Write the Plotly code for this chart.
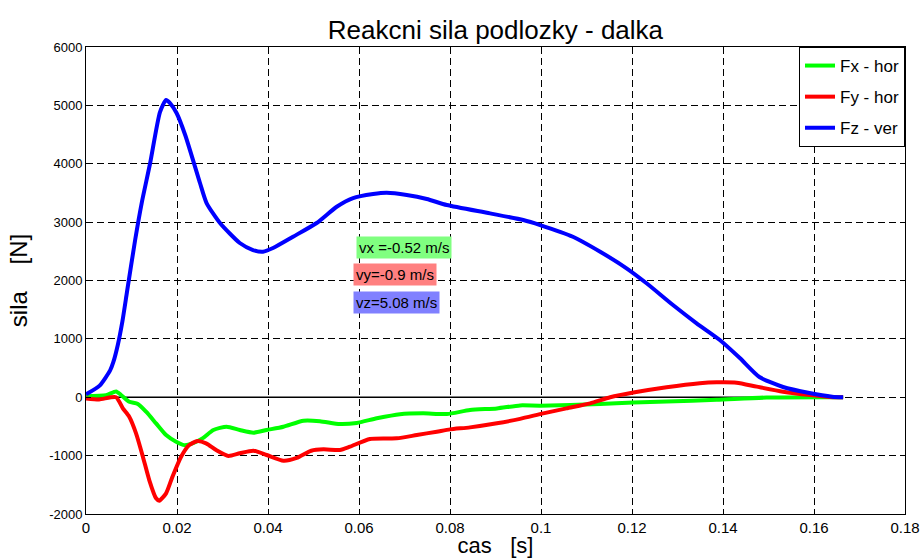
import plotly.graph_objects as go

# ---- data ----
t_fz = [0.0, 0.003, 0.0053, 0.006, 0.007, 0.008, 0.009, 0.0108, 0.01224, 0.0141, 0.01626, 0.0176,
        0.01846, 0.0199, 0.0218, 0.02505, 0.0265, 0.02945, 0.0338, 0.0367, 0.0389, 0.0411, 0.0455,
        0.0507, 0.0551, 0.0587, 0.0631, 0.0661, 0.0705, 0.0749, 0.0793, 0.0888, 0.0961, 0.0998,
        0.107, 0.113, 0.1188, 0.1232, 0.129, 0.1342, 0.1393, 0.1437, 0.148, 0.1532, 0.159, 0.164, 0.1664]
fz = [50, 200, 460, 600, 900, 1300, 1800, 2694, 3327, 4013, 4886, 5092,
      5040, 4869, 4492, 3670, 3327, 2985, 2642, 2522, 2493, 2557, 2750,
      2985, 3264, 3413, 3482, 3504, 3465, 3396, 3293, 3150, 3036, 2950,
      2750, 2493, 2209, 1952, 1580, 1267, 981, 672, 347, 176, 73, 10, 0]

t_fx = [0.0, 0.0044, 0.0066, 0.0077, 0.0095, 0.0114, 0.0132, 0.0154, 0.0176, 0.0198, 0.0216,
        0.0234, 0.0256, 0.028, 0.0309, 0.0338, 0.0368, 0.0397, 0.0434, 0.0478, 0.0514, 0.0558,
        0.0595, 0.0639, 0.069, 0.0741, 0.0793, 0.0844, 0.0903, 0.0954, 0.0998, 0.113, 0.1203,
        0.1276, 0.1386, 0.1496, 0.164, 0.1664]
fx = [20, 35, 100, 38, -77, -116, -248, -448, -648, -762, -820,
      -790, -705, -561, -505, -561, -607, -561, -505, -402, -410, -459,
      -440, -361, -290, -276, -288, -219, -191, -140, -145, -117, -90,
      -73, -44, -5, 0, 0]

t_fy = [0.0, 0.0029, 0.0066, 0.0081, 0.0095, 0.011, 0.0125, 0.0139, 0.0154, 0.0161, 0.0176,
        0.019, 0.0209, 0.0227, 0.0245, 0.0264, 0.0286, 0.0313, 0.0338, 0.0368, 0.0397, 0.0434,
        0.0463, 0.0495, 0.0522, 0.0558, 0.058, 0.0624, 0.0683, 0.0727, 0.0771, 0.08, 0.0844,
        0.0903, 0.0954, 0.1005, 0.1056, 0.1108, 0.1152, 0.1203, 0.1276, 0.1349, 0.1386, 0.143,
        0.1474, 0.1532, 0.1591, 0.1642, 0.1664]
fy = [-20, -37, 0, -190, -333, -618, -1018, -1418, -1731, -1772, -1646,
      -1361, -1018, -818, -750, -790, -904, -1006, -960, -916, -989, -1087,
      -1040, -916, -892, -904, -847, -715, -704, -647, -590, -550, -516,
      -447, -370, -276, -190, -104, 0, 80, 171, 240, 256, 250,
      182, 96, 38, 0, 0]

zero_t = [0.0, 0.1664]
zero_f = [0, 0]

x_ticks = [0, 0.02, 0.04, 0.06, 0.08, 0.1, 0.12, 0.14, 0.16, 0.18]
x_labels = ["0", "0.02", "0.04", "0.06", "0.08", "0.1", "0.12", "0.14", "0.16", "0.18"]
y_ticks = [-2000, -1000, 0, 1000, 2000, 3000, 4000, 5000, 6000]
y_labels = ["-2000", "-1000", "0", "1000", "2000", "3000", "4000", "5000", "6000"]

series_names = ["Fx - hor", "Fy - hor", "Fz - ver"]
series_colors = ["#00ff00", "#ff0000", "#0000ff"]
velocity_texts = ["vx =-0.52 m/s", "vy=-0.9 m/s", "vz=5.08 m/s"]
velocity_bg = ["#80ff80", "#ff8080", "#8080ff"]

FONT = "Liberation Sans, Arial, sans-serif"
NARROW = "Liberation Sans Narrow, Liberation Sans, Arial, sans-serif"

fig = go.Figure()
fig.add_trace(go.Scatter(x=zero_t, y=zero_f, mode="lines", line=dict(color="black", width=1.3),
                         showlegend=False, hoverinfo="skip"))
for tt, ff, name, col in zip([t_fx, t_fy, t_fz], [fx, fy, fz], series_names, series_colors):
    fig.add_trace(go.Scatter(x=tt, y=ff, mode="lines", name=name, legendgroup=name,
                             line=dict(color=col, width=4, shape="spline", smoothing=0.6)))

ann_y = [2557, 2105, 1630]
ann_x = [0.0593, 0.0587, 0.0587]
for txt, bg, ax_, ay_ in zip(velocity_texts, velocity_bg, ann_x, ann_y):
    fig.add_annotation(x=ax_, y=ay_, xref="x", yref="y", text=txt, showarrow=False,
                       xanchor="left", yanchor="middle", bgcolor=bg, borderpad=2,
                       font=dict(family=FONT, size=15, color="black"))

grid = dict(showgrid=True, gridcolor="#000000", gridwidth=1, griddash="7px,4px")
fig.update_xaxes(range=[0, 0.18], tickvals=x_ticks, ticktext=x_labels, **grid, automargin=False,
                 showline=True, linecolor="black", linewidth=1, mirror="allticks",
                 ticks="inside", ticklen=5, tickcolor="black", zeroline=False,
                 tickfont=dict(family=NARROW, size=15, color="black"),
                 title=dict(text="cas\u00a0\u00a0\u00a0[s]", font=dict(family=NARROW, size=22, color="black"),
                            standoff=4))
fig.update_yaxes(range=[-2000, 6000], tickvals=y_ticks, ticktext=y_labels, **grid, automargin=False,
                 showline=True, linecolor="black", linewidth=1, mirror="allticks",
                 ticks="inside", ticklen=5, tickcolor="black", zeroline=False,
                 tickfont=dict(family=FONT, size=13, color="black"),
                 title=dict(text="sila\u00a0\u00a0\u00a0\u00a0[N]", font=dict(family=FONT, size=24, color="black"),
                            standoff=14))

fig.update_layout(
    width=920, height=558,
    margin=dict(l=86, r=15, t=47, b=44),
    plot_bgcolor="white", paper_bgcolor="white",
    title=dict(text="Reakcni sila podlozky - dalka", x=0.5385, xanchor="center",
               y=1 - 30 / 558, yanchor="middle", font=dict(family=FONT, size=26, color="black")),
    legend=dict(x=1, y=1, xanchor="right", yanchor="top", bgcolor="white",
                bordercolor="black", borderwidth=1, tracegroupgap=6,
                font=dict(family=FONT, size=17, color="black")),
    showlegend=True,
)

fig.write_html("out.html")
